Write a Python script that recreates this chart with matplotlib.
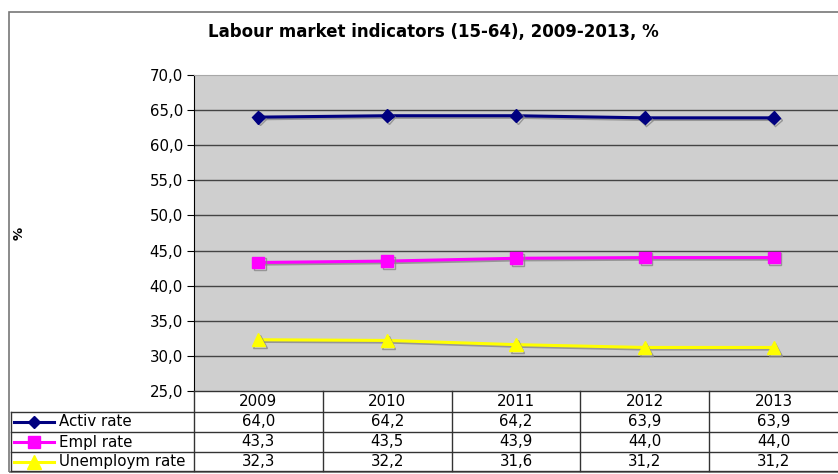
import matplotlib
matplotlib.use("Agg")
import matplotlib.pyplot as plt
import matplotlib.patheffects as pe
from matplotlib.lines import Line2D
from matplotlib.patches import Rectangle

plt.rcParams['font.family'] = ['DejaVu Sans']

years = ["2009", "2010", "2011", "2012", "2013"]
series_names = ["Activ rate", "Empl rate", "Unemploym rate"]
activ = [64.0, 64.2, 64.2, 63.9, 63.9]
empl = [43.3, 43.5, 43.9, 44.0, 44.0]
unemp = [32.3, 32.2, 31.6, 31.2, 31.2]
yticks = [25, 30, 35, 40, 45, 50, 55, 60, 65, 70]

W, H = 838, 474
fig = plt.figure(figsize=(W / 100, H / 100), dpi=100)

def fx(px):
    return px / W

def fy(py):
    return 1 - py / H

FS = 10.8

# outer chart border
fig.add_artist(Rectangle((fx(9), fy(472)), fx(840) - fx(9), fy(12) - fy(472),
                         transform=fig.transFigure, fill=False, ec='#777777', lw=1.2))

left, right, top, bottom = 194, 838, 75, 391
ax = fig.add_axes([fx(left), fy(bottom), fx(right) - fx(left), fy(top) - fy(bottom)])
ax.set_facecolor('#CFCFCF')
ax.set_xlim(-0.5, len(years) - 0.5)
ax.set_ylim(25, 70)
ax.set_yticks(yticks)
ax.set_yticklabels([f"{v:.1f}".replace('.', ',') for v in yticks], fontsize=FS)
ax.set_xticks([])
for v in yticks[1:-1]:
    ax.axhline(v, color='#444444', lw=1.0, zorder=1)
for s in ['right', 'bottom']:
    ax.spines[s].set_visible(False)
ax.spines['top'].set_color('#A8A8A8')
ax.spines['left'].set_color('black')
ax.tick_params(axis='y', length=5, color='black', pad=3)

x = list(range(len(years)))
shadow = [pe.SimpleLineShadow(offset=(1.2, -1.2), shadow_color='#888888', alpha=0.8), pe.Normal()]
styles = [
    dict(color='#000080', marker='D', ms=6.5),
    dict(color='#FF00FF', marker='s', ms=8.5),
    dict(color='#FFFF00', marker='^', ms=9.5),
]
for vals, st in zip([activ, empl, unemp], styles):
    ax.plot(x, vals, color=st['color'], lw=2.2, marker=st['marker'], ms=st['ms'],
            mfc=st['color'], mec=st['color'], zorder=3, path_effects=shadow)

fig.text(fx(433), fy(32), "Labour market indicators (15-64), 2009-2013, %",
         ha='center', va='center', fontsize=12, fontweight='bold')
fig.text(fx(19), fy(233), "%", rotation=90, ha='center', va='center',
         fontsize=9.5, fontweight='bold')

# data table
row_y = [391, 412, 432, 452, 471]
col_x = [left + i * (right - left) / len(years) for i in range(len(years) + 1)]
lc = '#333333'
tl = 11
fig.add_artist(Line2D([fx(left), fx(right)], [fy(row_y[0])] * 2, color=lc, lw=1))
for yy in row_y[1:]:
    fig.add_artist(Line2D([fx(tl), fx(right)], [fy(yy)] * 2, color=lc, lw=1))
fig.add_artist(Line2D([fx(tl)] * 2, [fy(row_y[1]), fy(row_y[-1])], color=lc, lw=1))
for cx in col_x[:-1]:
    fig.add_artist(Line2D([fx(cx)] * 2, [fy(row_y[0]), fy(row_y[-1])], color=lc, lw=1))

for i, yr in enumerate(years):
    cx = (col_x[i] + col_x[i + 1]) / 2
    fig.text(fx(cx), fy((row_y[0] + row_y[1]) / 2), yr, ha='center', va='center', fontsize=FS)
for r, (name, vals, st) in enumerate(zip(series_names, [activ, empl, unemp], styles)):
    cy = (row_y[r + 1] + row_y[r + 2]) / 2
    fig.add_artist(Line2D([fx(14), fx(34), fx(54)], [fy(cy)] * 3, color=st['color'], lw=2.2,
                          marker=st['marker'], markevery=[1], ms=st['ms'],
                          mfc=st['color'], mec=st['color']))
    fig.text(fx(59), fy(cy), name, ha='left', va='center', fontsize=FS)
    for i, v in enumerate(vals):
        cx = (col_x[i] + col_x[i + 1]) / 2
        fig.text(fx(cx), fy(cy), f"{v:.1f}".replace('.', ','), ha='center', va='center', fontsize=FS)

fig.savefig("out.png", dpi=100)
